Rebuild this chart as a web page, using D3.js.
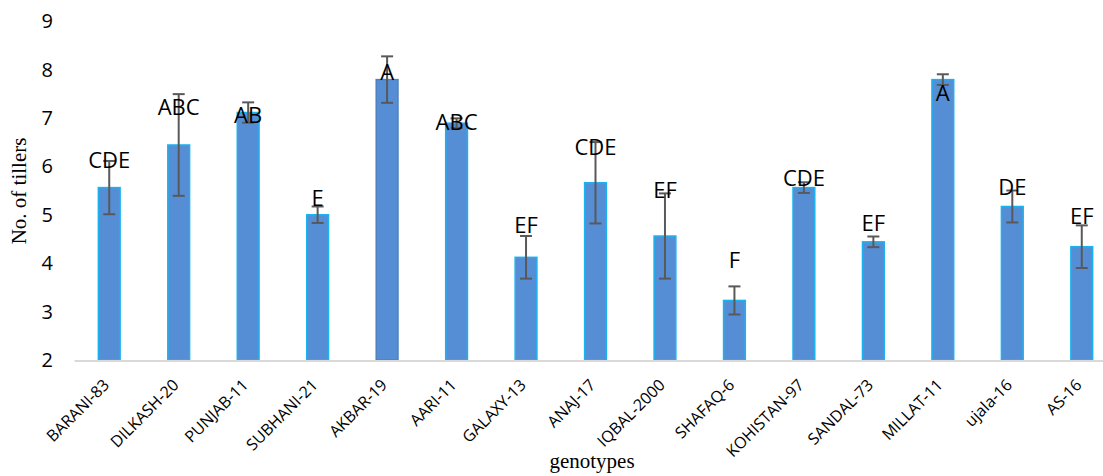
<!DOCTYPE html>
<html lang="en">
<head>
    <meta charset="UTF-8">
    <title>No. of tillers by genotype</title>
    <script src="https://cdnjs.cloudflare.com/ajax/libs/d3/7.8.5/d3.min.js"></script>
    <style>
        body { margin: 0; background: #fff; }
        .tick-label { font: 20px "Open Sans", sans-serif; fill: #000; }
        .cat-label { font: 16px "Open Sans", sans-serif; fill: #000; }
        .letter { font: 22px "Open Sans", sans-serif; fill: #000; }
        .axis-title { font: 21px "Liberation Serif", "Times New Roman", serif; fill: #000; }
    </style>
</head>
<body>
    <div id="chart"></div>

    <script>
        // data
        const genotypes = ["BARANI-83", "DILKASH-20", "PUNJAB-11", "SUBHANI-21", "AKBAR-19", "AARI-11",
            "GALAXY-13", "ANAJ-17", "IQBAL-2000", "SHAFAQ-6", "KOHISTAN-97", "SANDAL-73",
            "MILLAT-11", "ujala-16", "AS-16"];
        const tillers = [5.56, 6.44, 7.11, 5.00, 7.79, 6.89, 4.12, 5.66, 4.56, 3.23, 5.56, 4.44, 7.79, 5.17, 4.34];
        const errors = [0.55, 1.05, 0.21, 0.17, 0.48, 0.10, 0.44, 0.84, 0.88, 0.29, 0.11, 0.11, 0.11, 0.33, 0.44];
        const letters = ["CDE", "ABC", "AB", "E", "A", "ABC", "EF", "CDE", "EF", "F", "CDE", "EF", "A", "DE", "EF"];
        // where each letter label sits (value units, baseline)
        const letterAt = [5.97, 7.06, 6.89, 5.18, 7.79, 6.75, 4.62, 6.24, 5.35, 3.89, 5.60, 4.67, 7.34, 5.41, 4.80];
        const yTicks = [2, 3, 4, 5, 6, 7, 8, 9];

        const width = 1103;
        const height = 476;
        const plotLeft = 74.5, plotRight = 1116.5;
        const plotTop = 21, plotBottom = 360;

        const svg = d3.select("#chart").append("svg")
            .attr("width", width)
            .attr("height", height);

        const x = d3.scaleBand()
            .domain(genotypes)
            .range([plotLeft, plotRight])
            .paddingInner(0.665)
            .paddingOuter(0.3325);

        const y = d3.scaleLinear()
            .domain([2, 9])
            .range([plotBottom, plotTop]);

        // y tick labels
        svg.append("g").selectAll("text")
            .data(yTicks)
            .enter().append("text")
            .attr("class", "tick-label")
            .attr("x", 53)
            .attr("y", d => y(d))
            .attr("dy", "0.36em")
            .attr("text-anchor", "end")
            .text(d => d);

        // bars
        svg.append("g").selectAll("rect")
            .data(genotypes)
            .enter().append("rect")
            .attr("x", d => x(d) + 0.75)
            .attr("y", (d, i) => y(tillers[i]))
            .attr("width", x.bandwidth() - 1.5)
            .attr("height", (d, i) => y(2) - y(tillers[i]))
            .attr("fill", "#558ed5")
            .attr("stroke", d => d === "AKBAR-19" ? "#4f81bd" : "#19b4ef")
            .attr("stroke-width", 1.5);

        // baseline
        svg.append("line")
            .attr("x1", plotLeft).attr("x2", width)
            .attr("y1", plotBottom + 1).attr("y2", plotBottom + 1)
            .attr("stroke", "#d9d9d9")
            .attr("stroke-width", 2);

        // error bars
        const eb = svg.append("g")
            .attr("stroke", "#595959")
            .attr("stroke-width", 2);
        genotypes.forEach((g, i) => {
            const cx = x(g) + x.bandwidth() / 2;
            const hi = y(tillers[i] + errors[i]);
            const lo = y(tillers[i] - errors[i]);
            eb.append("line").attr("x1", cx).attr("x2", cx).attr("y1", hi).attr("y2", lo);
            eb.append("line").attr("x1", cx - 6).attr("x2", cx + 6).attr("y1", hi).attr("y2", hi);
            eb.append("line").attr("x1", cx - 6).attr("x2", cx + 6).attr("y1", lo).attr("y2", lo);
        });

        // letter labels
        svg.append("g").selectAll("text")
            .data(genotypes)
            .enter().append("text")
            .attr("class", "letter")
            .attr("x", d => x(d) + x.bandwidth() / 2)
            .attr("y", (d, i) => y(letterAt[i]))
            .attr("text-anchor", "middle")
            .text((d, i) => letters[i]);

        // category labels, rotated
        svg.append("g").selectAll("text")
            .data(genotypes)
            .enter().append("text")
            .attr("class", "cat-label")
            .attr("text-anchor", "end")
            .attr("transform", d => `translate(${x(d) + x.bandwidth() / 2 - 3},${plotBottom + 22}) rotate(-45)`)
            .attr("dy", "0.35em")
            .text(d => d);

        // axis titles
        svg.append("text")
            .attr("class", "axis-title")
            .attr("transform", `translate(26,191) rotate(-90)`)
            .attr("text-anchor", "middle")
            .text("No. of tillers");

        svg.append("text")
            .attr("class", "axis-title")
            .attr("x", 592)
            .attr("y", 468)
            .attr("text-anchor", "middle")
            .text("genotypes");
    </script>
</body>
</html>
